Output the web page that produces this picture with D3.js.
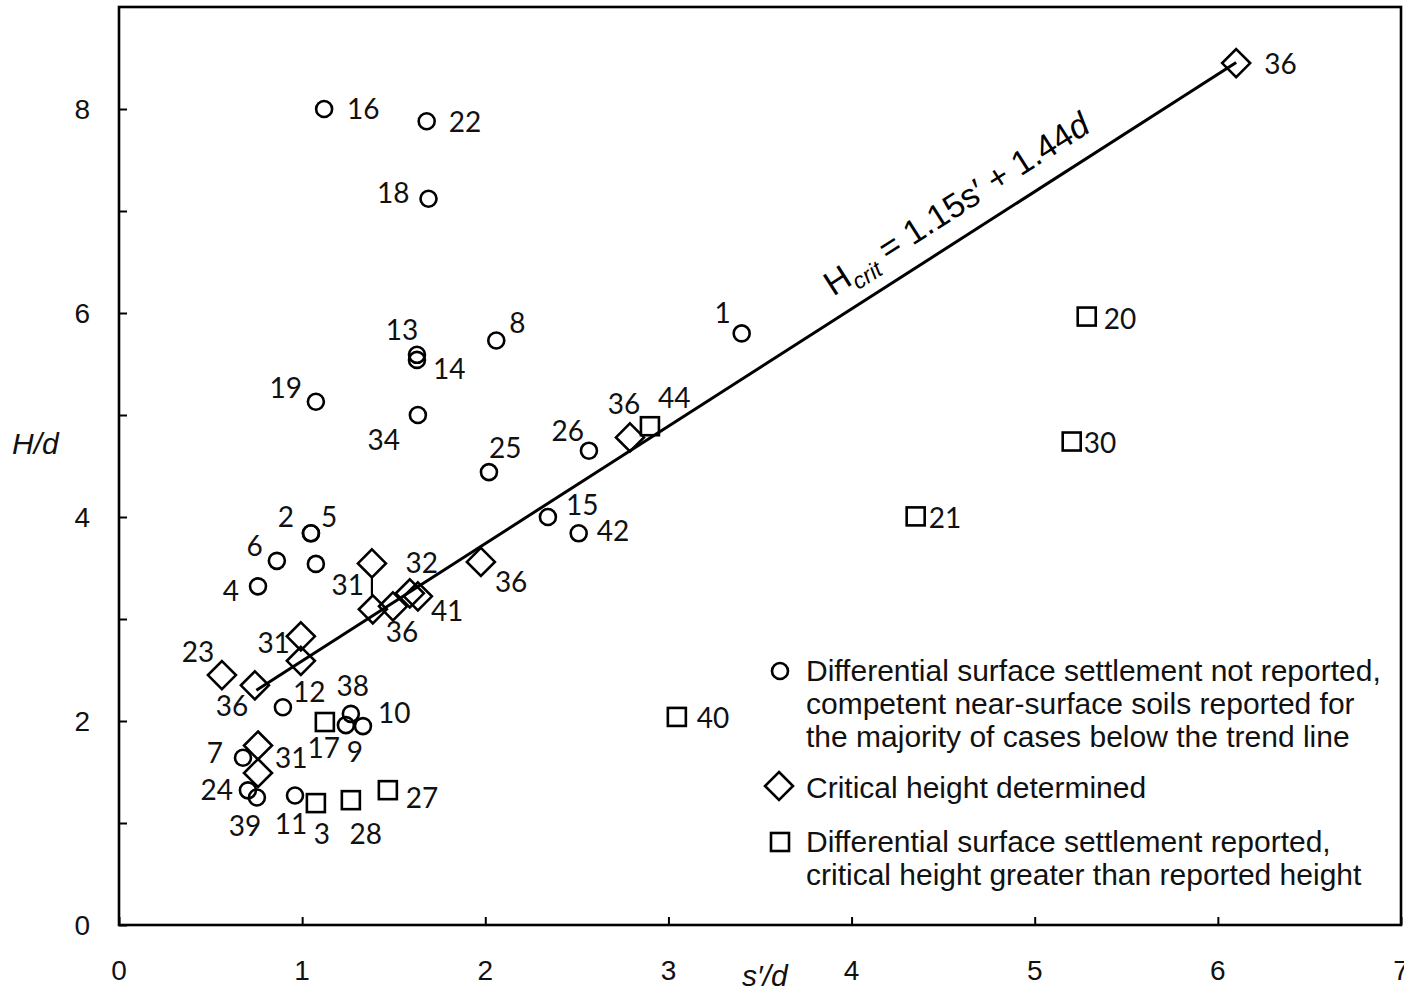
<!DOCTYPE html>
<html>
<head>
<meta charset="utf-8">
<script src="https://cdn.jsdelivr.net/npm/d3@7"></script>
<style>
  body { margin: 0; background: #fff; }
  svg { display: block; }
  .tick-label { font-family: "Liberation Sans", Arial, sans-serif; font-size: 28px; fill: #111; }
  .pt-label { font-family: Lato, "Open Sans", sans-serif; font-size: 28px; fill: #111; }
  .legend text { font-family: "Liberation Sans", Arial, sans-serif; font-size: 30px; fill: #111; }
</style>
</head>
<body>
<svg id="chart" width="1404" height="992"></svg>
<script>
// circles: differential surface settlement not reported
const circle_labels = ['16', '22', '18', '13', '14', '8', '1', '19', '34', '25', '26', '15', '42', '2', '5', '', '6', '4', '12', '38', '9', '10', '7', '24', '39', '11'];
const circle_sd = [1.12, 1.68, 1.69, 1.627, 1.627, 2.06, 3.40, 1.075, 1.632, 2.02, 2.566, 2.342, 2.51, 1.048, 1.048, 1.075, 0.862, 0.759, 0.895, 1.266, 1.239, 1.332, 0.677, 0.704, 0.753, 0.961];
const circle_hd = [8.00, 7.88, 7.12, 5.59, 5.54, 5.73, 5.80, 5.13, 5.00, 4.44, 4.65, 4.00, 3.84, 3.84, 3.84, 3.54, 3.57, 3.32, 2.135, 2.07, 1.96, 1.95, 1.64, 1.32, 1.25, 1.27];

// diamonds: critical height determined
const diamond_labels = ['36', '36', '36', '31', '', '36', '32', '41', '31', '', '23', '36', '31', ''];
const diamond_sd = [6.10, 2.79, 1.976, 1.381, 1.386, 1.496, 1.588, 1.632, 0.993, 0.993, 0.562, 0.742, 0.759, 0.759];
const diamond_hd = [8.45, 4.78, 3.56, 3.545, 3.095, 3.124, 3.252, 3.222, 2.83, 2.59, 2.45, 2.35, 1.76, 1.49];
const diamond_links = [[3, 4]];

// squares: settlement reported, critical height greater than reported height
const square_labels = ['44', '20', '30', '21', '40', '17', '3', '28', '27'];
const square_sd = [2.899, 5.284, 5.202, 4.35, 3.046, 1.124, 1.075, 1.266, 1.468];
const square_hd = [4.89, 5.965, 4.74, 4.006, 2.04, 1.99, 1.195, 1.224, 1.322];

// trend line H/d = 1.15 s'/d + 1.44
const trend_slope = 1.15;
const trend_intercept = 1.44;
const trend_range = [0.75, 6.10];

const x_ticks = [0, 1, 2, 3, 4, 5, 6, 7];
const y_ticks = [0, 1, 2, 3, 4, 5, 6, 7, 8];
const y_tick_labels = [0, 2, 4, 6, 8];

const legend_items = [
  { shape: 'circle', lines: ['Differential surface settlement not reported,', 'competent near-surface soils reported for', 'the majority of cases below the trend line'] },
  { shape: 'diamond', lines: ['Critical height determined'] },
  { shape: 'square', lines: ['Differential surface settlement reported,', 'critical height greater than reported height'] }
];

// label placement (pixel offset from marker centre, anchor)
const circle_label_pos = [
  [23, 0, 'start'], [22, 1, 'start'], [-19, -6, 'end'], [-15, -25, 'middle'], [16, 9, 'start'],
  [13, -18, 'start'], [-11, -20, 'end'], [-14, -14, 'end'], [-18, 25, 'end'], [0, -24, 'start'],
  [-5, -20, 'end'], [18, -12, 'start'], [18, -2, 'start'], [-17, -16, 'end'], [10, -16, 'start'],
  [0, 0, 'start'], [-14, -15, 'end'], [-19, 5, 'end'], [10, -15, 'start'], [2, -28, 'middle'],
  [9, 27, 'middle'], [15, -13, 'start'], [-20, -5, 'end'], [-15, 0, 'end'], [-12, 28, 'middle'],
  [-4, 29, 'middle']
];
const diamond_label_pos = [
  [28, 1, 'start'], [-6, -33, 'middle'], [14, 20, 'start'], [-8, 22, 'end'], [0, 0, 'start'],
  [9, 26, 'middle'], [12, -30, 'middle'], [13, 15, 'start'], [-11, 7, 'end'], [0, 0, 'start'],
  [-24, -23, 'middle'], [-23, 21, 'middle'], [17, 13, 'start'], [0, 0, 'start']
];
const square_label_pos = [
  [8, -28, 'start'], [17, 2, 'start'], [12, 1, 'start'], [13, 2, 'start'], [20, 1, 'start'],
  [-1, 26, 'middle'], [6, 31, 'middle'], [15, 34, 'middle'], [18, 8, 'start']
];

const width = 1404, height = 992;
const margin = { top: 7, right: 3, bottom: 67, left: 119 };

const svg = d3.select('#chart');

const x = d3.scaleLinear().domain([0, 7]).range([margin.left, width - margin.right]);
const y = d3.scaleLinear().domain([0, 9]).range([height - margin.bottom, margin.top]);

const ink = '#000';
const marker_stroke = 2.6;
const r_circle = 8, r_diamond = 14, r_square = 9;

// frame
svg.append('rect')
  .attr('x', x(0)).attr('y', y(9))
  .attr('width', x(7) - x(0)).attr('height', y(0) - y(9))
  .attr('fill', 'none').attr('stroke', ink).attr('stroke-width', 2.6);

// ticks (pointing inward)
svg.append('g')
  .attr('transform', `translate(0,${y(0)})`)
  .call(d3.axisTop(x).tickValues(x_ticks).tickSize(8).tickFormat(''))
  .call(g => g.select('.domain').remove())
  .call(g => g.selectAll('line').attr('stroke', ink).attr('stroke-width', 2));

svg.append('g')
  .attr('transform', `translate(${x(0)},0)`)
  .call(d3.axisRight(y).tickValues(y_ticks).tickSize(8).tickFormat(''))
  .call(g => g.select('.domain').remove())
  .call(g => g.selectAll('line').attr('stroke', ink).attr('stroke-width', 2));

svg.append('g').selectAll('text')
  .data(x_ticks)
  .enter().append('text')
  .attr('class', 'tick-label')
  .attr('x', d => x(d))
  .attr('y', y(0) + 55)
  .attr('text-anchor', 'middle')
  .text(d => d);

svg.append('g').selectAll('text')
  .data(y_tick_labels)
  .enter().append('text')
  .attr('class', 'tick-label')
  .attr('x', x(0) - 29)
  .attr('y', d => y(d) + 10)
  .attr('text-anchor', 'end')
  .text(d => d);

// axis titles
svg.append('text')
  .attr('class', 'tick-label')
  .attr('x', 12).attr('y', 454)
  .style('font-style', 'italic').style('font-size', '30px')
  .text('H/d');

svg.append('text')
  .attr('class', 'tick-label')
  .attr('x', 742).attr('y', 986)
  .style('font-style', 'italic').style('font-size', '30px')
  .text('s\u2032/d');

// trend line
const trend = trend_range.map(v => [v, trend_slope * v + trend_intercept]);
svg.append('path')
  .datum(trend)
  .attr('d', d3.line().x(d => x(d[0])).y(d => y(d[1])))
  .attr('stroke', ink).attr('stroke-width', 3).attr('fill', 'none');

const angle = Math.atan2(y(trend[1][1]) - y(trend[0][1]), x(trend[1][0]) - x(trend[0][0])) * 180 / Math.PI;
const eq_at = 3.90;
const eq = svg.append('text')
  .attr('transform', `translate(${x(eq_at)},${y(trend_slope * eq_at + trend_intercept) - 24}) rotate(${angle})`)
  .style('font-family', '"Liberation Sans", Arial, sans-serif')
  .style('font-size', '34px')
  .attr('fill', ink);
eq.append('tspan').text('H');
eq.append('tspan').attr('dy', 8).style('font-size', '23px').style('font-style', 'italic').text('crit');
eq.append('tspan').attr('dy', -8).text(' = 1.15s\u2032 + 1.44');
eq.append('tspan').style('font-style', 'italic').text('d');

// markers
const diamond_path = s => `M0,${-s}L${s},0L0,${s}L${-s},0Z`;

const circles = circle_labels.map((l, i) => ({ label: l, sd: circle_sd[i], hd: circle_hd[i], pos: circle_label_pos[i] }));
const diamonds = diamond_labels.map((l, i) => ({ label: l, sd: diamond_sd[i], hd: diamond_hd[i], pos: diamond_label_pos[i] }));
const squares = square_labels.map((l, i) => ({ label: l, sd: square_sd[i], hd: square_hd[i], pos: square_label_pos[i] }));

svg.append('g').selectAll('line')
  .data(diamond_links)
  .enter().append('line')
  .attr('x1', d => x(diamond_sd[d[0]])).attr('x2', d => x(diamond_sd[d[0]]))
  .attr('y1', d => y(diamond_hd[d[0]]) + r_diamond)
  .attr('y2', d => y(diamond_hd[d[1]]) - r_diamond)
  .attr('stroke', ink).attr('stroke-width', 2.2);

svg.append('g').selectAll('circle')
  .data(circles)
  .enter().append('circle')
  .attr('cx', d => x(d.sd)).attr('cy', d => y(d.hd)).attr('r', r_circle)
  .attr('fill', 'none').attr('stroke', ink).attr('stroke-width', marker_stroke);

svg.append('g').selectAll('path')
  .data(diamonds)
  .enter().append('path')
  .attr('transform', d => `translate(${x(d.sd)},${y(d.hd)})`)
  .attr('d', diamond_path(r_diamond))
  .attr('fill', 'none').attr('stroke', ink).attr('stroke-width', marker_stroke);

svg.append('g').selectAll('rect')
  .data(squares)
  .enter().append('rect')
  .attr('x', d => x(d.sd) - r_square).attr('y', d => y(d.hd) - r_square)
  .attr('width', 2 * r_square).attr('height', 2 * r_square)
  .attr('fill', 'none').attr('stroke', ink).attr('stroke-width', marker_stroke);

// point labels
svg.append('g').selectAll('text')
  .data(circles.concat(diamonds, squares).filter(d => d.label))
  .enter().append('text')
  .attr('class', 'pt-label')
  .attr('x', d => x(d.sd) + d.pos[0])
  .attr('y', d => y(d.hd) + d.pos[1] + 10)
  .attr('text-anchor', d => d.pos[2])
  .text(d => d.label);

// legend
const legend = svg.append('g').attr('class', 'legend');
const legend_x = 780, text_x = 806, line_h = 33;
const legend_tops = [671, 788, 842];
legend_items.forEach((item, i) => {
  const cy = legend_tops[i];
  if (item.shape === 'circle') {
    legend.append('circle').attr('cx', legend_x).attr('cy', cy).attr('r', r_circle)
      .attr('fill', 'none').attr('stroke', ink).attr('stroke-width', marker_stroke);
  } else if (item.shape === 'diamond') {
    legend.append('path').attr('transform', `translate(${legend_x - 1},${cy - 2})`).attr('d', diamond_path(r_diamond))
      .attr('fill', 'none').attr('stroke', ink).attr('stroke-width', marker_stroke);
  } else {
    legend.append('rect').attr('x', legend_x - r_square).attr('y', cy - r_square)
      .attr('width', 2 * r_square).attr('height', 2 * r_square)
      .attr('fill', 'none').attr('stroke', ink).attr('stroke-width', marker_stroke);
  }
  item.lines.forEach((t, j) => {
    legend.append('text').attr('x', text_x).attr('y', cy + 10 + j * line_h).text(t);
  });
});
</script>
</body>
</html>
